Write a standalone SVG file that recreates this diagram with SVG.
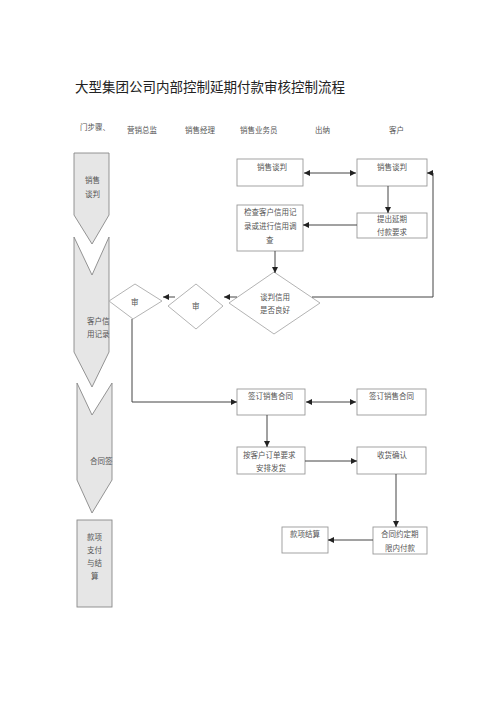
<svg xmlns="http://www.w3.org/2000/svg" width="500" height="707" viewBox="0 0 500 707">
<defs>
<style>
.t{font-family:"Liberation Serif","Noto Sans CJK SC",serif;font-size:7.5px;fill:#555}
.title{font-family:"Liberation Serif","Noto Sans CJK SC",serif;font-size:13.5px;fill:#222}
.box{fill:#fff;stroke:#999;stroke-width:0.9}
.chev{fill:#e6e6e6;stroke:#888;stroke-width:0.9}
.dia{fill:#fff;stroke:#aaa;stroke-width:0.9}
.ln{fill:none;stroke:#444;stroke-width:1}
</style>
<marker id="ah" viewBox="0 0 10 10" refX="10" refY="5" markerWidth="6" markerHeight="6" markerUnits="userSpaceOnUse" orient="auto-start-reverse">
<path d="M0,0 L10,5 L0,10 z" fill="#222"/>
</marker>
</defs>
<rect width="500" height="707" fill="#fff"/>
<text class="title" x="75" y="92">大型集团公司内部控制延期付款审核控制流程</text>
<g id="headers">
<text class="t" x="80" y="130">门步骤、</text>
<text class="t" x="127" y="133">营销总监</text>
<text class="t" x="185" y="133">销售经理</text>
<text class="t" x="240" y="133">销售业务员</text>
<text class="t" x="315" y="133">出纳</text>
<text class="t" x="389" y="133">客户</text>
</g>
<g id="step1"><polygon class="chev" points="74,153 109,153 109,215 92,244 74,215"/><text class="t" x="85" y="183">销售</text><text class="t" x="85" y="197">谈判</text></g>
<g id="step2"><polygon class="chev" points="74,237 92,275 109,237 109,352 92,387 74,352"/><text class="t" x="87" y="324">客户信</text><text class="t" x="87" y="337">用记录</text></g>
<g id="step3"><polygon class="chev" points="77,383 92,415 112,383 112,480 92,513 77,480"/><text class="t" x="90" y="464">合同签</text></g>
<g id="step4"><rect class="chev" x="77" y="520" width="35" height="87"/><text class="t" x="87" y="540">款项</text><text class="t" x="87" y="553">支付</text><text class="t" x="87" y="566">与结</text><text class="t" x="91" y="579">算</text></g>
<g id="nA"><rect class="box" x="237" y="159" width="66" height="27"/><text class="t" x="257" y="170">销售谈判</text></g>
<g id="nB"><rect class="box" x="357" y="159" width="70" height="27"/><text class="t" x="377" y="170">销售谈判</text></g>
<g id="nC"><rect class="box" x="237" y="205" width="66" height="46"/><text class="t" x="244" y="215">检查客户信用记</text><text class="t" x="244" y="229">录或进行信用调</text><text class="t" x="266" y="243">查</text></g>
<g id="nD"><rect class="box" x="357" y="213" width="70" height="25"/><text class="t" x="377" y="222">提出延期</text><text class="t" x="377" y="235">付款要求</text></g>
<g id="nE"><polygon class="dia" points="274,272 320,303 274,334 229,303"/><text class="t" x="260" y="300">谈判信用</text><text class="t" x="260" y="313">是否良好</text></g>
<g id="nF"><polygon class="dia" points="196,284 223,306 196,329 168,306"/><text class="t" x="192" y="309">审</text></g>
<g id="nG"><polygon class="dia" points="135,284 162,301 133,319 109,301"/><text class="t" x="131" y="305">审</text></g>
<g id="nH"><rect class="box" x="237" y="389" width="68" height="26"/><text class="t" x="248" y="399">签订销售合同</text></g>
<g id="nI"><rect class="box" x="357" y="389" width="69" height="26"/><text class="t" x="369" y="399">签订销售合同</text></g>
<g id="nJ"><rect class="box" x="237" y="447" width="68" height="27"/><text class="t" x="243" y="458">按客户订单要求</text><text class="t" x="256" y="471">安排发货</text></g>
<g id="nK"><rect class="box" x="357" y="447" width="69" height="27"/><text class="t" x="377" y="458">收货确认</text></g>
<g id="nL"><rect class="box" x="373" y="527" width="54" height="27"/><text class="t" x="381" y="537">合同约定期</text><text class="t" x="385" y="551">限内付款</text></g>
<g id="nM"><rect class="box" x="282" y="527" width="46" height="26"/><text class="t" x="290" y="537">款项结算</text></g>
<g id="connectors">
<line class="ln" x1="304" y1="173" x2="356" y2="173" marker-start="url(#ah)" marker-end="url(#ah)"/>
<line class="ln" x1="388" y1="186" x2="388" y2="213" marker-end="url(#ah)"/>
<line class="ln" x1="357" y1="225" x2="303" y2="225" marker-end="url(#ah)"/>
<line class="ln" x1="275" y1="251" x2="275" y2="273" marker-end="url(#ah)"/>
<polyline class="ln" points="312,297 433,297 433,173 427,173" marker-end="url(#ah)"/>
<line class="ln" x1="237" y1="297" x2="224" y2="297" marker-end="url(#ah)"/>
<line class="ln" x1="175" y1="297" x2="163" y2="297" marker-end="url(#ah)"/>
<polyline class="ln" points="132,319 132,402 237,402" marker-end="url(#ah)"/>
<line class="ln" x1="306" y1="402" x2="356" y2="402" marker-start="url(#ah)" marker-end="url(#ah)"/>
<line class="ln" x1="267" y1="415" x2="267" y2="447" marker-end="url(#ah)"/>
<line class="ln" x1="305" y1="461" x2="357" y2="461" marker-end="url(#ah)"/>
<line class="ln" x1="396" y1="474" x2="396" y2="527" marker-end="url(#ah)"/>
<line class="ln" x1="373" y1="540" x2="328" y2="540" marker-end="url(#ah)"/>
</g>
</svg>
